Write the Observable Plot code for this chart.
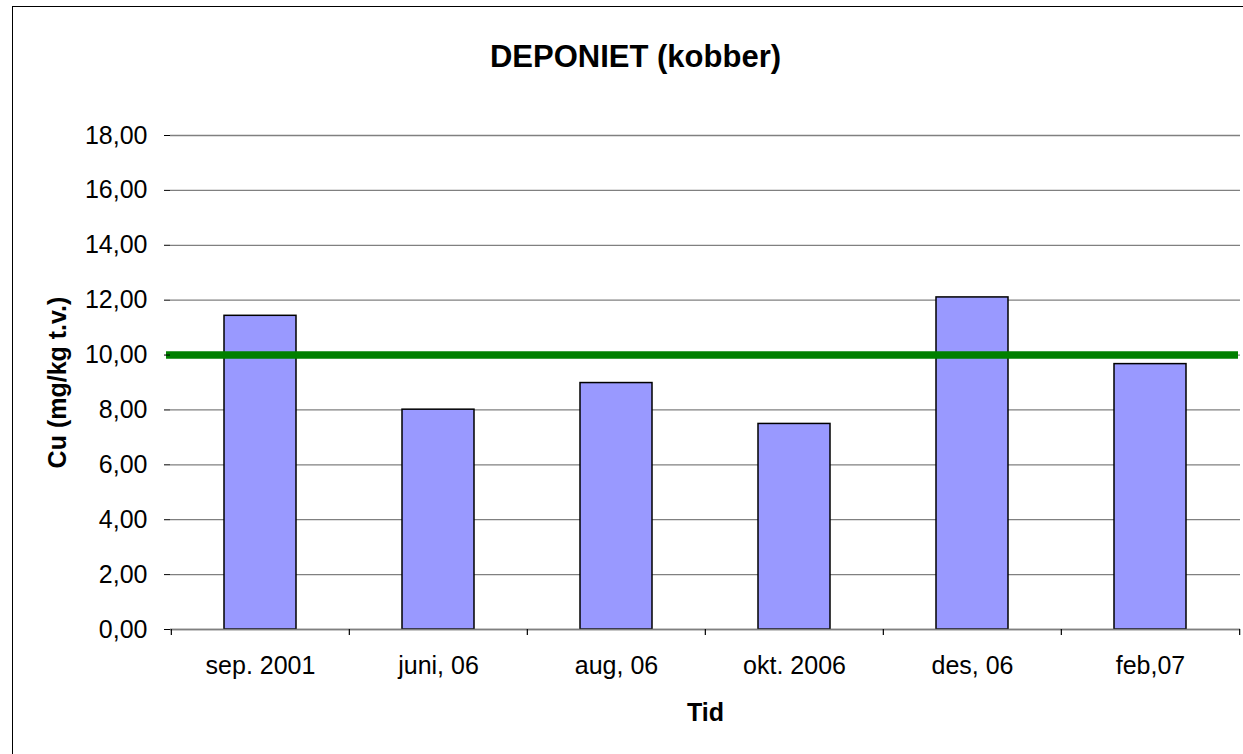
<!DOCTYPE html>
<html>
<head>
<meta charset="utf-8">
<script src="https://cdn.jsdelivr.net/npm/d3@7"></script>
<script src="https://cdn.jsdelivr.net/npm/@observablehq/plot@0.6"></script>
<style>
  html, body { margin: 0; padding: 0; background: #fff; overflow: hidden; }
  #wrap { position: relative; width: 1243px; height: 754px; overflow: hidden; }
  #frame { position: absolute; left: 12px; top: 6px; width: 1400px; height: 900px; border: 1.5px solid #000; box-sizing: border-box; pointer-events: none; }
  #chart { position: absolute; left: 0; top: 0; }
</style>
</head>
<body>
<div id="wrap"><div id="chart"></div><div id="frame"></div></div>
<script>
const categories = ["sep. 2001", "juni, 06", "aug, 06", "okt. 2006", "des, 06", "feb,07"];
const values = [11.43, 8.01, 8.98, 7.49, 12.10, 9.67];
const limit = [10];
const yTicks = [0, 2, 4, 6, 8, 10, 12, 14, 16, 18];
const title = "DEPONIET (kobber)";
const xLabel = "Tid";
const yLabel = "Cu (mg/kg t.v.)";

const data = categories.map((c, i) => ({cat: c, val: values[i]}));
const fmt = d => d.toFixed(2).replace(".", ",");
const font = "'Liberation Sans', Arial, Helvetica, sans-serif";
const half = 1070 / categories.length / 2;

const chart = Plot.plot({
  width: 1243,
  height: 754,
  marginLeft: 170,
  marginRight: 3,
  marginTop: 135,
  marginBottom: 125,
  style: {fontFamily: font, fontSize: "25px", color: "#000", background: "transparent", overflow: "visible"},
  x: {domain: categories, paddingInner: 0.596, paddingOuter: 0.298},
  y: {domain: [0, 18]},
  marks: [
    Plot.gridY(yTicks, {stroke: "#808080", strokeOpacity: 1, strokeWidth: 1.3}),
    Plot.barY(data, {x: "cat", y: "val", fill: "#9999FF", stroke: "#000", strokeWidth: 1.5}),
    Plot.ruleY([0], {stroke: "#808080", strokeWidth: 1.5}),
    Plot.ruleX(categories, {x: d => d, dx: -half, y1: 0, y2: -0.22, stroke: "#000", strokeWidth: 1.2}),
    Plot.ruleX([categories[categories.length - 1]], {x: d => d, dx: half, y1: 0, y2: -0.22, stroke: "#000", strokeWidth: 1.2}),
    Plot.ruleY(limit, {stroke: "#008000", strokeWidth: 7.5, insetLeft: -4, insetRight: 2}),
    Plot.axisY({ticks: yTicks, tickFormat: fmt, tickSize: 6, tickPadding: 17, label: null, stroke: "#000", fontSize: 25}),
    Plot.ruleX([0], {frameAnchor: "left", stroke: "#000", strokeWidth: 1.3}),
    Plot.axisX({tickSize: 0, tickPadding: 27, label: null, fontSize: 25}),
    Plot.text([title], {frameAnchor: "top", dx: -70, dy: -78, fontWeight: "bold", fontSize: 31, lineAnchor: "middle"}),
    Plot.text([xLabel], {frameAnchor: "bottom", dy: 83, fontWeight: "bold", fontSize: 25, lineAnchor: "middle"}),
    Plot.text([yLabel], {frameAnchor: "left", dx: -113, rotate: -90, textAnchor: "middle", fontWeight: "bold", fontSize: 25, lineAnchor: "middle"})
  ]
});
document.getElementById("chart").appendChild(chart);
</script>
</body>
</html>
